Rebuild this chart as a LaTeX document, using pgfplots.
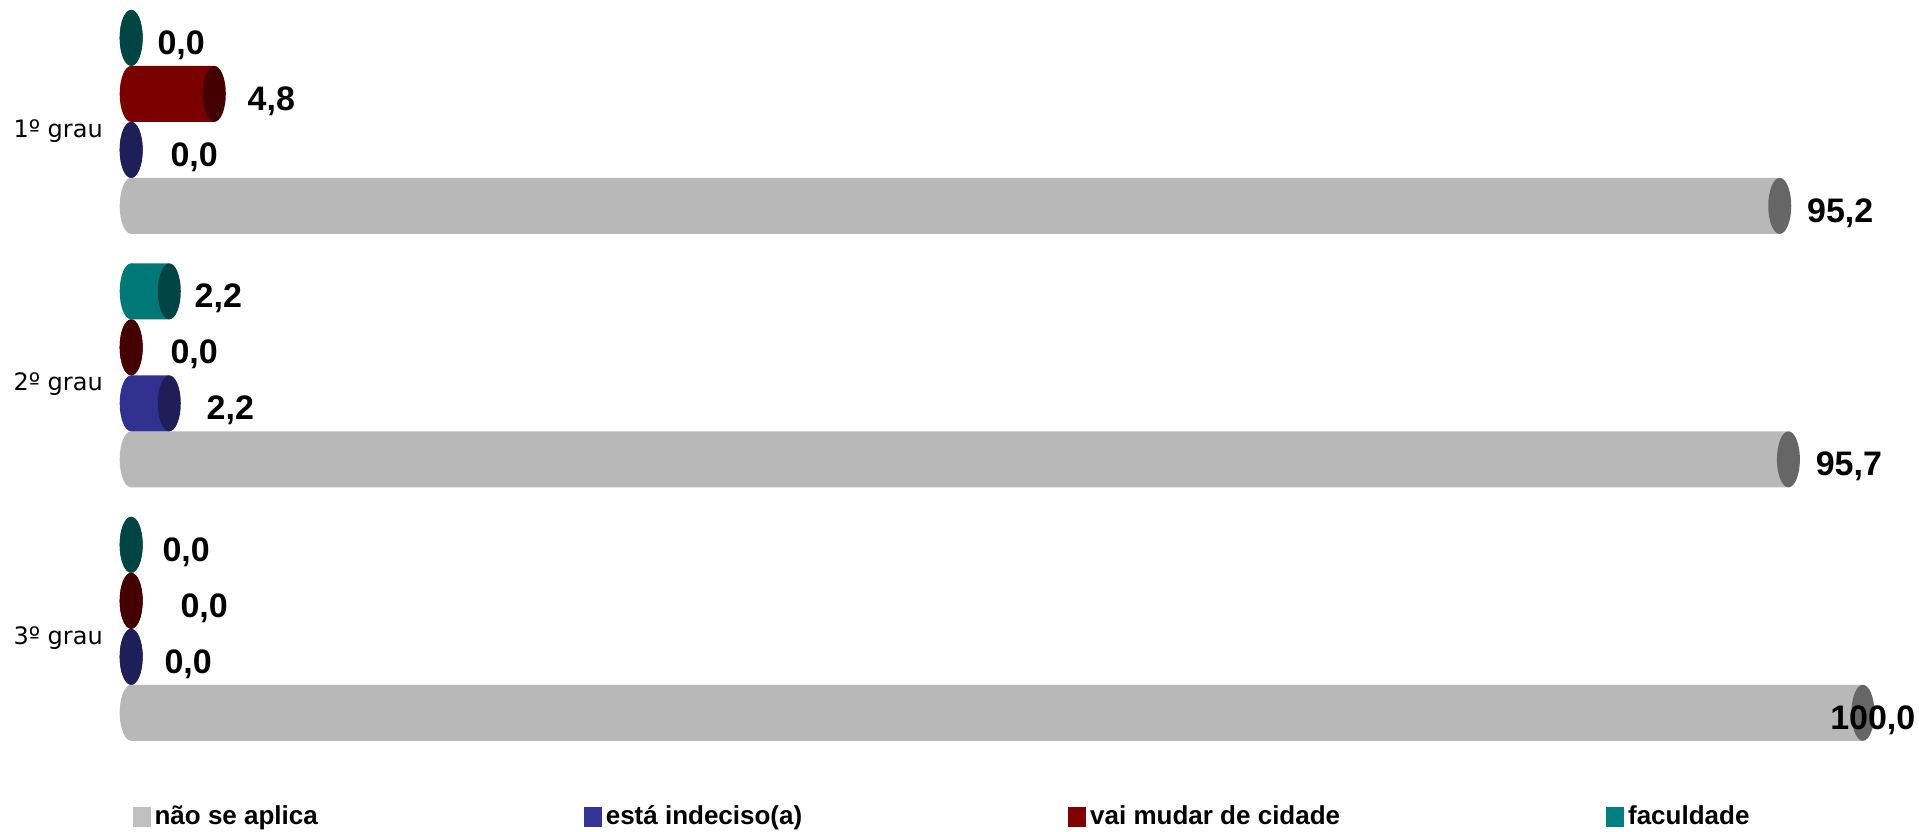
\documentclass[border=0pt]{standalone}
\usepackage{pgfplots}
\pgfplotsset{compat=1.18}
\usepackage{pgfplotstable}
\usepackage{fontspec}
\setmainfont{Liberation Sans}
\newfontfamily\dejavu{DejaVu Sans}

\definecolor{gbody}{HTML}{B8B8B8}
\definecolor{gcap}{HTML}{666666}
\definecolor{gleg}{HTML}{C0C0C0}
\definecolor{bbody}{HTML}{31318F}
\definecolor{bcap}{HTML}{1E1E58}
\definecolor{bleg}{HTML}{333399}
\definecolor{rbody}{HTML}{7A0000}
\definecolor{rcap}{HTML}{440000}
\definecolor{rleg}{HTML}{800000}
\definecolor{tbody}{HTML}{007878}
\definecolor{tcap}{HTML}{004444}
\definecolor{tleg}{HTML}{008080}

% y = category (2 = 1o grau, 1 = 2o grau, 0 = 3o grau), v = value, dx = label offset (px)
\pgfplotstableread{
y v dx
2 95.2 27
1 95.7 27
0 100.0 -33
}\tgray
\pgfplotstableread{
y v dx
2 0.0 39
1 2.2 37
0 0.0 33
}\tblue
\pgfplotstableread{
y v dx
2 4.8 33
1 0.0 39
0 0.0 49
}\tred
\pgfplotstableread{
y v dx
2 0.0 26
1 2.2 25
0 0.0 31
}\tteal

\newcommand\defcyl[3]{%
  \pgfdeclareplotmark{#1}{%
    \pgfmathsetmacro\off{-\val*8.66}%
    \path[draw=none, fill=#2] (\off pt,0pt) ellipse [x radius=5.75pt, y radius=14pt];%
    \path[draw=none, fill=#3] (0pt,0pt) ellipse [x radius=5.75pt, y radius=14pt];%
  }}
\defcyl{cylg}{gbody}{gcap}
\defcyl{cylb}{bbody}{bcap}
\defcyl{cylr}{rbody}{rcap}
\defcyl{cylt}{tbody}{tcap}

\pgfplotsset{
  barstyle/.style n args={2}{xbar, bar width=28pt, bar shift=#1, draw=none,
    fill=#2, forget plot},
  capstyle/.style n args={2}{only marks, mark=#2, forget plot,
    mark options={yshift=#1, draw=none},
    visualization depends on={rawx \as \val},
    visualization depends on={\thisrow{dx} \as \dx},
    point meta=x,
    nodes near coords={\pgfmathprintnumber[fixed, fixed zerofill, precision=1, use comma, assume math mode=true]{\pgfplotspointmeta}},
    every node near coord/.append style={anchor=base west, inner sep=0pt,
      xshift=\dx*0.5pt, yshift=-8.25pt, text=black,
      font=\bfseries\fontsize{17}{20}\selectfont}},
}

\begin{document}
\begin{tikzpicture}
\begin{axis}[
  x=8.66pt, y=126.75pt, scale only axis,
  xmin=-7.564, xmax=103.23, ymin=-0.8008, ymax=2.481,
  axis line style={draw=none},
  xtick=\empty, ytick={0,1,2},
  yticklabels={3º grau,2º grau,1º grau},
  major tick length=0pt,
  yticklabel style={font=\dejavu\fontsize{12}{14}\selectfont, anchor=east, inner sep=0pt, xshift=51.5pt, yshift=-4.5pt},
  clip=false,
  legend image code/.code={\fill (0pt,-5pt) rectangle (9pt,5pt);},
  legend columns=4,
  legend cell align=left,
  legend style={at={(axis description cs:0.0688,0.018)}, anchor=west,
    draw=none, fill=none, inner sep=0pt,
    font=\bfseries\fontsize{13}{15}\selectfont,
    /tikz/every even column/.append style={column sep=131pt}},
]
\addlegendimage{fill=gleg, draw=none}
\addlegendentry{não se aplica}
\addlegendimage{fill=bleg, draw=none}
\addlegendentry{está indeciso(a)}
\addlegendimage{fill=rleg, draw=none}
\addlegendentry{vai mudar de cidade}
\addlegendimage{fill=tleg, draw=none}
\addlegendentry{faculdade}

\addplot[barstyle={-42pt}{gbody}] table[x=v, y=y] {\tgray};
\addplot[barstyle={-14pt}{bbody}] table[x=v, y=y] {\tblue};
\addplot[barstyle={14pt}{rbody}] table[x=v, y=y] {\tred};
\addplot[barstyle={42pt}{tbody}] table[x=v, y=y] {\tteal};

\addplot[capstyle={-42pt}{cylg}] table[x=v, y=y] {\tgray};
\addplot[capstyle={-14pt}{cylb}] table[x=v, y=y] {\tblue};
\addplot[capstyle={14pt}{cylr}] table[x=v, y=y] {\tred};
\addplot[capstyle={42pt}{cylt}] table[x=v, y=y] {\tteal};
\end{axis}
\end{tikzpicture}
\end{document}
